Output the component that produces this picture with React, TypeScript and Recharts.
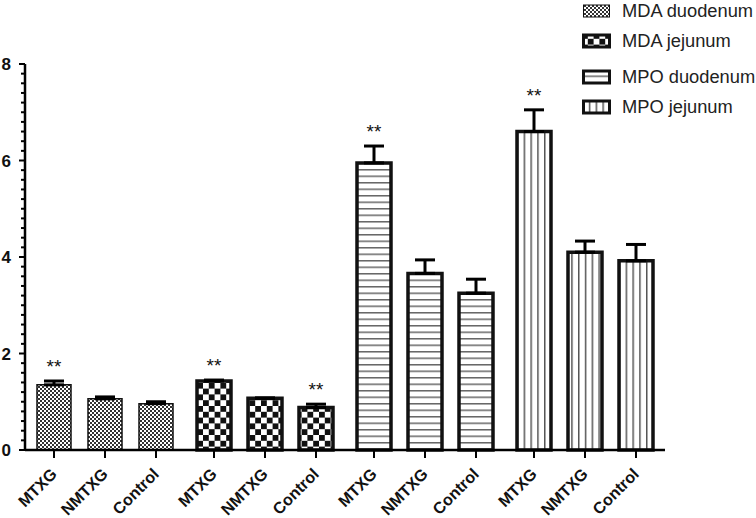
import React from 'react';
import { BarChart, Bar, XAxis, YAxis, ErrorBar, LabelList, Legend, Cell } from 'recharts';

// groups (one pattern each) and the three treatments inside every group
const groups = ['MDA duodenum', 'MDA jejunum', 'MPO duodenum', 'MPO jejunum'];
const treatments = ['MTXG', 'NMTXG', 'Control'];

const mtxgMean = [1.35, 1.43, 5.95, 6.6];
const nmtxgMean = [1.06, 1.07, 3.66, 4.1];
const controlMean = [0.96, 0.88, 3.25, 3.92];

const mtxgSem = [0.08, 0.02, 0.35, 0.45];
const nmtxgSem = [0.04, 0.01, 0.28, 0.23];
const controlSem = [0.04, 0.07, 0.29, 0.34];

const mtxgSig = ['**', '**', '**', '**'];
const nmtxgSig = ['', '', '', ''];
const controlSig = ['', '**', '', ''];

const majorTicks = [0, 2, 4, 6, 8];
const allTicks = Array.from({ length: 41 }, (_, i) => i / 5);

const means = [mtxgMean, nmtxgMean, controlMean];
const sems = [mtxgSem, nmtxgSem, controlSem];
const sigs = [mtxgSig, nmtxgSig, controlSig];

const data = groups.map((g, i) => {
  const row: any = { group: g };
  treatments.forEach((t, j) => {
    row[t] = means[j][i];
    row[t + '_err'] = [0, sems[j][i]];
    row[t + '_sig'] = sigs[j][i];
  });
  return row;
});

const FONT = '"Liberation Sans", Arial, Helvetica, sans-serif';
const fills = ['url(#pat0)', 'url(#pat1)', 'url(#pat2)', 'url(#pat3)'];
const strokeW = [1.5, 3.5, 3.5, 3.5];
const legendRowTop = [1, 31, 67, 97];

const Patterns = () => (
  <svg width={0} height={0} style={{ position: 'absolute', left: 0, top: 0 }}>
    <defs>
      <pattern id="pat0" width={4} height={4} patternUnits="userSpaceOnUse">
        <rect width={4} height={4} fill="#fff" />
        <rect width={2} height={2} fill="#333" />
        <rect x={2} y={2} width={2} height={2} fill="#333" />
      </pattern>
      <pattern id="pat1" width={11.6} height={11.6} patternUnits="userSpaceOnUse">
        <rect width={11.6} height={11.6} fill="#fff" />
        <rect width={5.8} height={5.8} fill="#111" />
        <rect x={5.8} y={5.8} width={5.8} height={5.8} fill="#111" />
      </pattern>
      <pattern id="pat2" width={10} height={6.5} patternUnits="userSpaceOnUse">
        <rect width={10} height={6.5} fill="#fff" />
        <rect width={10} height={1.5} fill="#666" />
      </pattern>
      <pattern id="pat3" width={6.8} height={10} patternUnits="userSpaceOnUse">
        <rect width={6.8} height={10} fill="#fff" />
        <rect width={1.5} height={10} fill="#555" />
      </pattern>
    </defs>
  </svg>
);

const YTick = (props: any) => {
  const x = Number(props.x);
  const y = Number(props.y);
  const v = props.payload.value;
  const major = majorTicks.some((m) => Math.abs(m - v) < 1e-6);
  return (
    <g>
      <line x1={x - (major ? 6 : 4)} x2={x} y1={y} y2={y} stroke="#000" strokeWidth={2} />
      {major && (
        <text x={x - 14} y={y + 6} textAnchor="end" fontSize={17} fontWeight="bold" fontFamily={FONT} fill="#111">
          {String(v)}
        </text>
      )}
    </g>
  );
};

const xLabel = (name: string) => (props: any) => {
  const x = Number(props.x);
  const w = Number(props.width);
  const base = Number(props.y) + Number(props.height);
  const cx = x + w / 2;
  const tx = cx + 4;
  const ty = base + 25;
  return (
    <g>
      <line x1={cx} x2={cx} y1={base} y2={base + 8} stroke="#000" strokeWidth={2} />
      <text
        x={tx}
        y={ty}
        transform={`rotate(-45 ${tx} ${ty})`}
        textAnchor="end"
        fontSize={16.2}
        fontWeight="bold"
        fontFamily={FONT}
        fill="#111"
      >
        {name}
      </text>
    </g>
  );
};

const sigLabel = (mean: number[], sem: number[]) => (props: any) => {
  const { value, index } = props;
  if (!value) return null;
  const x = Number(props.x);
  const w = Number(props.width);
  const y = Number(props.y);
  const h = Number(props.height);
  const perUnit = h / mean[index];
  const capY = y - sem[index] * perUnit;
  return (
    <text x={x + w / 2} y={capY - 8} textAnchor="middle" fontSize={19} fontFamily={FONT} fill="#111">
      {value}
    </text>
  );
};

const renderLegend = () => (
  <div style={{ position: 'relative', height: 120, fontFamily: FONT }}>
    {groups.map((g, i) => (
      <div
        key={g}
        style={{
          position: 'absolute',
          top: legendRowTop[i],
          left: 0,
          height: 20,
          display: 'flex',
          alignItems: 'center',
          whiteSpace: 'nowrap',
        }}
      >
        <svg width={30} height={16} style={{ marginRight: 10, display: 'block' }}>
          <rect
            x={1.5}
            y={2}
            width={26}
            height={12}
            fill={fills[i]}
            stroke="#111"
            strokeWidth={i === 0 ? 1 : 3}
          />
        </svg>
        <span style={{ fontSize: 18.3, color: '#222', lineHeight: '20px' }}>{g}</span>
      </div>
    ))}
  </div>
);

export default function App() {
  return (
    <div style={{ position: 'relative', width: 756, height: 518, background: '#fff' }}>
      <style>{'html, body { margin: 0; padding: 0; }'}</style>
      <Patterns />
      <BarChart
        width={756}
        height={518}
        data={data}
        margin={{ top: 64, right: 91, left: 0, bottom: 38 }}
        barGap={17}
        barCategoryGap={12}
      >
        <XAxis
          dataKey="group"
          tick={false}
          tickLine={false}
          axisLine={{ stroke: '#000', strokeWidth: 2.5 }}
          height={30}
        />
        <YAxis
          type="number"
          domain={[0, 8]}
          ticks={allTicks}
          interval={0}
          tickSize={0}
          tickMargin={0}
          tickLine={false}
          width={25}
          axisLine={{ stroke: '#000', strokeWidth: 2.5 }}
          tick={<YTick />}
        />
        <Legend
          layout="vertical"
          align="center"
          verticalAlign="middle"
          content={renderLegend}
          wrapperStyle={{ top: 0, left: 582, width: 174 }}
        />
        {treatments.map((t, j) => (
          <Bar key={t} dataKey={t} barSize={34} isAnimationActive={false}>
            {data.map((_, i) => (
              <Cell key={i} fill={fills[i]} stroke="#111" strokeWidth={strokeW[i]} />
            ))}
            <ErrorBar dataKey={t + '_err'} width={10} strokeWidth={3} stroke="#000" direction="y" isAnimationActive={false} />
            <LabelList dataKey={t} content={xLabel(t)} />
            <LabelList dataKey={t + '_sig'} content={sigLabel(means[j], sems[j])} />
          </Bar>
        ))}
      </BarChart>
    </div>
  );
}
